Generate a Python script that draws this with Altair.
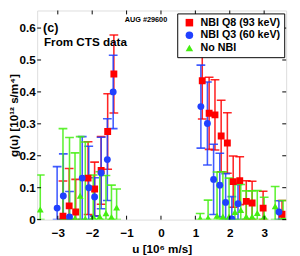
import altair as alt
import pandas as pd

# ---------------- data ----------------
series_names = ["NBI Q8 (93 keV)", "NBI Q3 (60 keV)", "No NBI"]
series_colors = ["#ff0000", "#2040ff", "#44ee11"]
series_shapes = ["square", "circle", "triangle-up"]

red_u = [-2.85, -2.67, -2.48, -2.12, -1.93, -1.74, -1.55, -1.37,
         1.20, 1.40, 1.57, 1.75, 1.93, 2.10, 2.29, 2.48, 2.65, 2.97, 3.52]
red_g = [0.011, 0.043, 0.024, 0.130, 0.096, 0.154, 0.276, 0.456,
         0.435, 0.333, 0.328, 0.262, 0.240, 0.119, 0.122, 0.057, 0.052, 0.036, 0.017]
red_e = [0.110, 0.117, 0.102, 0.114, 0.084, 0.106, 0.118, 0.122,
         0.120, 0.113, 0.110, 0.112, 0.095, 0.080, 0.075, 0.065, 0.068, 0.053, 0.043]

blue_u = [-3.02, -2.84, -2.66, -2.29, -2.10, -1.93, -1.74, -1.56, -1.39,
          1.16, 1.35, 1.53, 1.71, 1.88, 2.06, 2.24, 3.43]
blue_g = [0.036, 0.074, 0.008, 0.130, 0.100, 0.071, 0.146, 0.188, 0.400,
          0.354, 0.301, 0.126, 0.108, 0.054, 0.002, 0.050, 0.024]
blue_e = [0.130, 0.132, 0.080, 0.130, 0.130, 0.060, 0.112, 0.128, 0.115,
          0.130, 0.130, 0.110, 0.100, 0.090, 0.070, 0.060, 0.035]

green_u = [-3.51, -2.85, -2.66, -2.50, -2.35, -2.20, -1.97, -1.78, -1.60, -1.44, -1.29,
           1.14, 1.37, 1.63, 1.80, 1.98, 2.15, 2.32, 2.48, 2.65, 2.80, 3.00, 3.32, 3.55]
green_g = [0.032, 0.005, 0.002, 0.004, 0.075, 0.003, 0.010, 0.010, 0.020, 0.008, 0.038,
           0.004, 0.006, 0.012, 0.010, 0.010, 0.024, 0.030, 0.010, 0.010, 0.021, 0.010, 0.042, 0.010]
green_e = [0.108, 0.280, 0.255, 0.205, 0.185, 0.240, 0.130, 0.140, 0.118, 0.100, 0.058,
           0.015, 0.055, 0.137, 0.140, 0.120, 0.090, 0.080, 0.080, 0.080, 0.070, 0.060, 0.062, 0.050]

y_ticks = [0, 0.1, 0.2, 0.3, 0.4, 0.5, 0.6]
x_ticks = [-3, -2, -1, 0, 1, 2, 3]

# ---------------- build tables ----------------
def table(name, u, g, e):
    return pd.DataFrame({
        "u": u, "g": g,
        "lo": [max(0.0, a - b) for a, b in zip(g, e)],
        "hi": [a + b for a, b in zip(g, e)],
        "series": name,
    })

tables = [table(series_names[0], red_u, red_g, red_e),
          table(series_names[1], blue_u, blue_g, blue_e),
          table(series_names[2], green_u, green_g, green_e)]

W, H = 256, 215
FONT = "Liberation Sans"
xs = alt.Scale(domain=[-3.6, 3.64], nice=False, zero=False)
ys = alt.Scale(domain=[0, 0.655], nice=False, zero=False)

xaxis = alt.Axis(values=x_ticks, title="u [10⁶ m/s]", grid=False, ticks=False, domain=False,
                 labelFont=FONT, labelFontSize=12, labelFontWeight="bold", labelColor="black",
                 labelPadding=8, titleFont=FONT, titleFontSize=12, titleFontWeight="bold",
                 titleColor="black", titlePadding=6)
yaxis = alt.Axis(values=y_ticks, title="g(u) [10¹² s/m⁴]", grid=False, ticks=False, domain=False,
                 labelExpr="datum.value == 0 ? '0' : format(datum.value, '.1f')",
                 labelFont=FONT, labelFontSize=12, labelFontWeight="bold", labelColor="black",
                 labelPadding=2, titleFont=FONT, titleFontSize=12, titleFontWeight="bold",
                 titleColor="black", titleX=-20, titleY=H / 2, titleAngle=270,
                 titleBaseline="alphabetic", titleAlign="center")

def X(field):
    return alt.X(field, scale=xs, axis=xaxis)

def Y(field):
    return alt.Y(field, scale=ys, axis=yaxis)

layers = []
for t, col in zip(tables, series_colors):
    base = alt.Chart(t)
    rule = base.mark_rule(color=col, strokeWidth=1.6, opacity=0.85, clip=True).encode(
        x=X("u:Q"), y=Y("lo:Q"), y2="hi:Q")
    cap_hi = base.mark_tick(color=col, orient="horizontal", size=9, thickness=1.6,
                            opacity=0.85, clip=True).encode(x=X("u:Q"), y=Y("hi:Q"))
    cap_lo = base.mark_tick(color=col, orient="horizontal", size=9, thickness=1.6,
                            opacity=0.85, clip=True).encode(x=X("u:Q"), y=Y("lo:Q"))
    layers += [rule, cap_hi, cap_lo]

points_df = pd.concat(tables, ignore_index=True)
points = alt.Chart(points_df).mark_point(filled=True, opacity=1, size=50, clip=True).encode(
    x=X("u:Q"),
    y=Y("g:Q"),
    color=alt.Color("series:N", scale=alt.Scale(domain=series_names, range=series_colors),
                    legend=alt.Legend(title=None, orient="none", legendX=144, legendY=3,
                                      fillColor="white", strokeColor="black", padding=4,
                                      rowPadding=1, symbolSize=60, symbolStrokeWidth=0,
                                      labelFont=FONT, labelFontSize=11, labelFontWeight="bold",
                                      labelColor="black", labelLimit=200, symbolOffset=3,
                                      labelOffset=6)),
    shape=alt.Shape("series:N", scale=alt.Scale(domain=series_names, range=series_shapes)),
    order=alt.Order("series:N", sort="descending"),
)
layers.append(points)

# inside tick marks (MATLAB style)
ytdf = pd.DataFrame({"t": y_ticks})
xtdf = pd.DataFrame({"t": x_ticks})
tick_left = alt.Chart(ytdf).mark_rule(color="black", strokeWidth=1).encode(
    y=Y("t:Q"), x=alt.value(0), x2=alt.value(4))
tick_right = alt.Chart(ytdf).mark_rule(color="black", strokeWidth=1).encode(
    y=Y("t:Q"), x=alt.value(W - 4), x2=alt.value(W))
tick_bot = alt.Chart(xtdf).mark_rule(color="black", strokeWidth=1).encode(
    x=X("t:Q"), y=alt.value(H - 4), y2=alt.value(H))
tick_top = alt.Chart(xtdf).mark_rule(color="black", strokeWidth=1).encode(
    x=X("t:Q"), y=alt.value(0), y2=alt.value(4))
layers += [tick_left, tick_right, tick_bot, tick_top]

# annotations
ann = pd.DataFrame({"txt": ["(c)"]})
t_c = alt.Chart(ann).mark_text(text="(c)", font=FONT, fontSize=13, fontWeight="bold",
                               align="left", baseline="middle", color="black").encode(
    x=alt.value(6), y=alt.value(18))
t_cts = alt.Chart(ann).mark_text(text="From CTS data", font=FONT, fontSize=12, fontWeight="bold",
                                 align="left", baseline="middle", color="black").encode(
    x=alt.value(7), y=alt.value(33))
t_aug = alt.Chart(ann).mark_text(text="AUG #29600", font=FONT, fontSize=7.5, fontWeight="bold",
                                 align="left", baseline="middle", color="black").encode(
    x=alt.value(90), y=alt.value(10))
layers += [t_c, t_cts, t_aug]

chart = alt.layer(*layers).properties(
    width=W, height=H,
    autosize=alt.AutoSizeParams(type="none"),
    padding={"left": 30, "top": -1, "right": 6, "bottom": 40},
).configure_view(stroke="black", strokeWidth=1.2).configure(background="white")

chart.save("out.html", embed_options={"renderer": "svg", "actions": False})
